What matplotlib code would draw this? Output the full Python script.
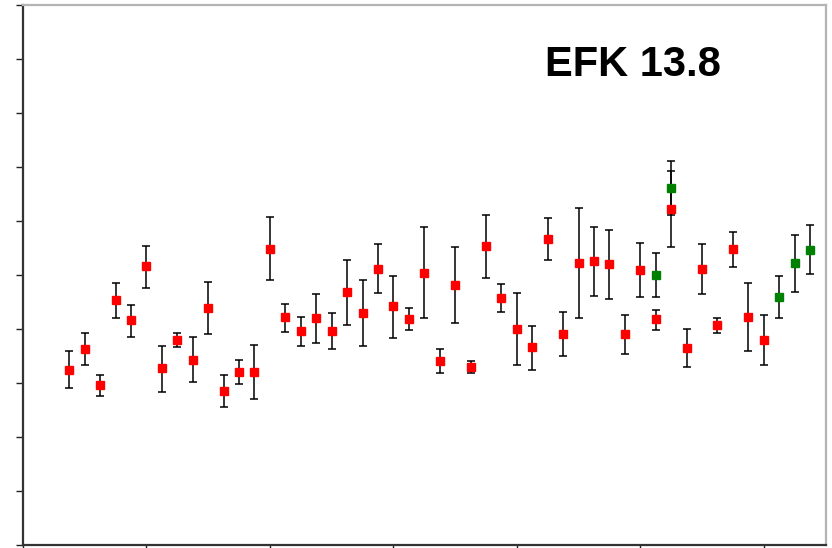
import numpy as np
import matplotlib
matplotlib.use('Agg')
import matplotlib.pyplot as plt

# Red series: x positions, values and lower/upper ends of error bars
red_x = list(range(3, 49))
red_val = [32.5, 36.3, 29.6, 45.3, 41.6, 51.6, 32.7, 38.0, 34.3, 43.9,
           28.5, 32.1, 32.1, 54.8, 42.2, 39.6, 42.0, 39.7, 46.8, 42.9,
           51.2, 44.2, 41.9, 50.4, 34.1, 48.2, 33.0, 55.4, 45.8, 40.0,
           36.7, 56.7, 39.1, 52.3, 52.6, 52.1, 39.0, 50.9, 41.8, 62.3,
           36.5, 51.1, 40.7, 54.8, 42.2, 38.0]
red_lo = [29.1, 33.3, 27.6, 42.1, 38.6, 47.6, 28.4, 36.7, 30.2, 39.1,
          25.6, 29.9, 27.1, 49.0, 39.5, 36.9, 37.5, 36.3, 40.8, 36.9,
          46.6, 38.4, 39.9, 42.0, 31.9, 41.1, 31.9, 49.5, 43.2, 33.3,
          32.5, 52.7, 35.0, 42.0, 46.2, 45.6, 35.4, 45.9, 39.8, 55.2,
          32.9, 46.4, 39.2, 51.4, 35.9, 33.3]
red_hi = [36.0, 39.3, 31.5, 48.6, 44.5, 55.4, 36.9, 39.2, 38.5, 48.7,
          31.5, 34.3, 37.0, 60.7, 44.7, 42.3, 46.5, 43.0, 52.7, 49.0,
          55.7, 49.9, 43.9, 58.8, 36.3, 55.2, 34.1, 61.2, 48.4, 46.7,
          40.6, 60.6, 43.2, 62.5, 58.9, 58.4, 42.6, 55.9, 43.5, 69.3,
          40.0, 55.7, 42.1, 58.0, 48.5, 42.6]

# Green series
green_x = [41, 42, 49, 50, 51]
green_val = [50.0, 66.2, 46.0, 52.2, 54.6]
green_lo = [45.9, 61.1, 42.0, 46.9, 50.1]
green_hi = [54.1, 71.1, 49.9, 57.5, 59.3]

fig = plt.figure(figsize=(8.32, 5.48), dpi=100)
ax = fig.add_axes([23 / 832, 3 / 548, (825.5 - 23) / 832, (545 - 5) / 548])


def draw(x, val, lo, hi, color):
    val = np.array(val)
    yerr = [val - np.array(lo), np.array(hi) - val]
    ax.errorbar(x, val, yerr=yerr, fmt='s', color=color, ms=6,
                ecolor='black', elinewidth=1.1, capsize=3, capthick=1.1,
                mec=color, zorder=3)


draw(red_x, red_val, red_lo, red_hi, '#ff0000')
draw(green_x, green_val, green_lo, green_hi, '#008000')

ax.set_xlim(0, 52)
ax.set_ylim(0, 100)
ax.set_xticks(np.arange(0, 52, 8))
ax.set_yticks(np.arange(0, 101, 10))
ax.set_xticklabels([])
ax.set_yticklabels([])
ax.tick_params(direction='out', length=5, width=1, color='#222222')

for side in ['left', 'bottom']:
    ax.spines[side].set_color('#333333')
    ax.spines[side].set_linewidth(1.6)
for side in ['top', 'right']:
    ax.spines[side].set_color('#b4b4b4')
    ax.spines[side].set_linewidth(1.6)

fig.text(545 / 832, 1 - 75.5 / 548, 'EFK 13.8', ha='left', va='baseline',
         fontsize=30, fontweight='bold', family='Liberation Sans')

fig.savefig('out.png', dpi=100)
